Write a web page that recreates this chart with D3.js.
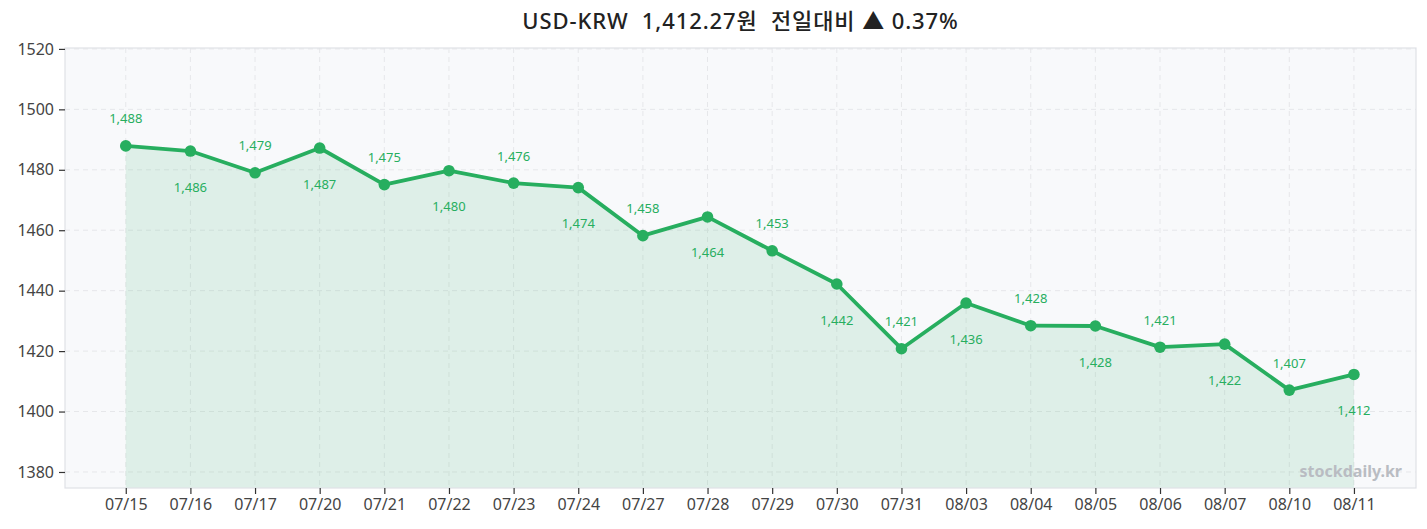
<!DOCTYPE html>
<html>
<head>
<meta charset="utf-8">
<script src="https://cdn.jsdelivr.net/npm/d3@7"></script>
<style>
  html, body { margin: 0; padding: 0; background: #fff; }
  body { font-family: "Noto Sans", "Noto Sans CJK KR", sans-serif; }
</style>
</head>
<body>
<div id="chart"></div>
<script>
// Chart data
const dates = ["07/15", "07/16", "07/17", "07/20", "07/21", "07/22", "07/23", "07/24", "07/27", "07/28",
  "07/29", "07/30", "07/31", "08/03", "08/04", "08/05", "08/06", "08/07", "08/10", "08/11"];
const rates = [1487.9, 1486.2, 1479.0, 1487.2, 1475.1, 1479.7, 1475.6, 1474.1, 1458.2, 1464.4,
  1453.2, 1442.2, 1420.8, 1435.9, 1428.4, 1428.3, 1421.3, 1422.3, 1407.1, 1412.27];
const yTicks = [1380, 1400, 1420, 1440, 1460, 1480, 1500, 1520];
const titleText = "USD-KRW  1,412.27원  전일대비 ▲ 0.37%";

const width = 1427;
const height = 529;
const margin = { top: 48, right: 11, bottom: 41, left: 65 };
const green = "#27ae5f";
const fontStack = "'Noto Sans', 'Noto Sans CJK KR', sans-serif";

const svg = d3.select("#chart")
  .append("svg")
  .attr("width", width)
  .attr("height", height)
  .attr("font-family", fontStack);

const x = d3.scaleLinear()
  .domain([-0.94, dates.length - 1 + 0.96])
  .range([margin.left, width - margin.right]);

const y = d3.scaleLinear()
  .domain([1374.7, 1520.3])
  .range([height - margin.bottom, margin.top]);

// plot background
svg.append("rect")
  .attr("x", margin.left)
  .attr("y", margin.top)
  .attr("width", width - margin.left - margin.right)
  .attr("height", height - margin.top - margin.bottom)
  .attr("fill", "#f8f9fb");

// grid lines
const grid = svg.append("g");
grid.selectAll("line.h")
  .data(yTicks)
  .enter()
  .append("line")
  .attr("x1", margin.left)
  .attr("x2", width - margin.right)
  .attr("y1", d => y(d))
  .attr("y2", d => y(d))
  .attr("stroke", "#e6e7ea")
  .attr("stroke-dasharray", "5,4");
grid.selectAll("line.v")
  .data(dates)
  .enter()
  .append("line")
  .attr("x1", (d, i) => x(i))
  .attr("x2", (d, i) => x(i))
  .attr("y1", margin.top)
  .attr("y2", height - margin.bottom)
  .attr("stroke", "#e6e7ea")
  .attr("stroke-dasharray", "5,4");

// area fill
const area = d3.area()
  .x((d, i) => x(i))
  .y0(height - margin.bottom)
  .y1(d => y(d));

svg.append("path")
  .datum(rates)
  .attr("d", area)
  .attr("fill", green)
  .attr("fill-opacity", 0.12);

// line
const line = d3.line()
  .x((d, i) => x(i))
  .y(d => y(d));

svg.append("path")
  .datum(rates)
  .attr("d", line)
  .attr("fill", "none")
  .attr("stroke", green)
  .attr("stroke-width", 3.8)
  .attr("stroke-linejoin", "round");

// points
svg.append("g")
  .selectAll("circle")
  .data(rates)
  .enter()
  .append("circle")
  .attr("cx", (d, i) => x(i))
  .attr("cy", d => y(d))
  .attr("r", 5.8)
  .attr("fill", green);

// value labels, alternating above / below
svg.append("g")
  .selectAll("text")
  .data(rates)
  .enter()
  .append("text")
  .attr("x", (d, i) => x(i))
  .attr("y", (d, i) => y(d) + (i % 2 === 0 ? -27 : 36))
  .attr("dy", "0.35em")
  .attr("text-anchor", "middle")
  .attr("font-size", "13px")
  .attr("fill", green)
  .text(d => d3.format(",")(Math.round(d)));

// plot border
svg.append("rect")
  .attr("x", margin.left)
  .attr("y", margin.top)
  .attr("width", width - margin.left - margin.right)
  .attr("height", height - margin.top - margin.bottom)
  .attr("fill", "none")
  .attr("stroke", "#dfe1e6")
  .attr("stroke-width", 1.2);

// axes
const xAxis = svg.append("g")
  .attr("transform", `translate(0,${height - margin.bottom})`)
  .call(d3.axisBottom(x)
    .tickValues(d3.range(dates.length))
    .tickFormat(i => dates[i])
    .tickSize(6)
    .tickPadding(5));
xAxis.select(".domain").remove();
xAxis.selectAll(".tick line").attr("stroke", "#333").attr("stroke-width", 1.2);
xAxis.selectAll(".tick text")
  .attr("font-size", "16px")
  .attr("fill", "#444")
  .attr("font-family", fontStack);

const yAxis = svg.append("g")
  .attr("transform", `translate(${margin.left},0)`)
  .call(d3.axisLeft(y)
    .tickValues(yTicks)
    .tickFormat(d3.format("d"))
    .tickSize(6)
    .tickPadding(5));
yAxis.select(".domain").remove();
yAxis.selectAll(".tick line").attr("stroke", "#333").attr("stroke-width", 1.2);
yAxis.selectAll(".tick text")
  .attr("font-size", "16px")
  .attr("fill", "#444")
  .attr("font-family", fontStack);

// title
svg.append("text")
  .attr("x", (margin.left + width - margin.right) / 2)
  .attr("y", 21)
  .attr("dy", "0.35em")
  .attr("text-anchor", "middle")
  .attr("font-size", "22px")
  .attr("font-weight", "500")
  .attr("letter-spacing", "0.9px")
  .attr("fill", "#222")
  .style("white-space", "pre")
  .text(titleText);

// watermark
svg.append("text")
  .attr("x", width - margin.right - 14)
  .attr("y", 471)
  .attr("dy", "0.35em")
  .attr("text-anchor", "end")
  .attr("font-size", "16px")
  .attr("font-weight", "bold")
  .attr("fill", "#b9bcc2")
  .text("stockdaily.kr");
</script>
</body>
</html>
